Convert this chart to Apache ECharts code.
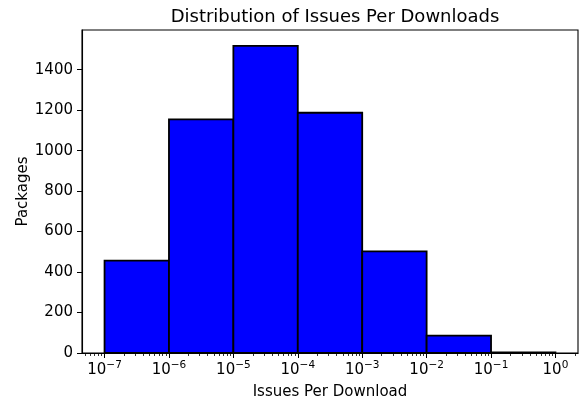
<!DOCTYPE html>
<html>
<head>
<meta charset="utf-8">
<script src="https://cdn.jsdelivr.net/npm/echarts@6/dist/echarts.min.js"></script>
<style>
  html, body { margin: 0; padding: 0; background: #fff; }
  #chart { width: 583px; height: 400px; }
</style>
</head>
<body>
<div id="chart"></div>
<script>
// histogram bins, edges given as powers of ten
const binStartExp = [-7, -6, -5, -4, -3, -2, -1];
const binEndExp = [-6, -5, -4, -3, -2, -1, 0];
const packageCounts = [456, 1154, 1518, 1187, 502, 86, 3];
const xTickExps = [-7, -6, -5, -4, -3, -2, -1, 0];
const yTicks = [0, 200, 400, 600, 800, 1000, 1200, 1400];

const FONT = "DejaVu Sans";
const xMin = -7.35, xMax = 0.35;

// minor log ticks (2..9 x 10^k)
const minorTicks = [];
for (let k = -8; k <= 0; k++) {
  for (let m = 2; m <= 9; m++) {
    const v = k + Math.log10(m);
    if (v > xMin && v < xMax) minorTicks.push(v);
  }
}

const histData = binStartExp.map((s, i) => [s, binEndExp[i], packageCounts[i]]);

var myChart = echarts.init(document.getElementById("chart"), null, { renderer: "canvas" });

var option = {
  animation: false,
  backgroundColor: "#fff",
  title: {
    text: "Distribution of Issues Per Downloads",
    left: 330,
    textAlign: "center",
    top: 3,
    textStyle: { fontFamily: FONT, fontSize: 18, fontWeight: "normal", color: "#000" }
  },
  grid: {
    left: 82, right: 5, top: 30, bottom: 47,
    containLabel: false,
    outerBoundsMode: "none",
    show: true, borderColor: "#000", borderWidth: 1.1, backgroundColor: "transparent"
  },
  xAxis: [
    {
      type: "value",
      min: xMin,
      max: xMax,
      name: "Issues Per Download",
      nameLocation: "middle",
      nameGap: 32,
      nameTextStyle: { fontFamily: FONT, fontSize: 15, color: "#000" },
      splitLine: { show: false },
      axisLine: { show: true, onZero: false, lineStyle: { color: "#000", width: 1.1 } },
      axisTick: { show: true, customValues: xTickExps, length: 5, inside: false, lineStyle: { color: "#000", width: 1 } },
      axisLabel: {
        customValues: xTickExps,
        margin: 7,
        color: "#000",
        formatter: function (v) {
          return "{b|10}{s|" + String(v).replace("-", "\u2212") + "}";
        },
        rich: {
          b: { fontFamily: FONT, fontSize: 15, color: "#000", verticalAlign: "bottom" },
          s: { fontFamily: FONT, fontSize: 10.5, color: "#000", verticalAlign: "bottom", padding: [0, 0, 7, 0] }
        }
      }
    },
    {
      type: "value",
      min: xMin,
      max: xMax,
      position: "bottom",
      splitLine: { show: false },
      axisLine: { show: false, onZero: false },
      axisLabel: { show: false },
      axisTick: { show: true, customValues: minorTicks, length: 3, lineStyle: { color: "#000", width: 0.8 } }
    }
  ],
  yAxis: {
    type: "value",
    min: 0,
    max: 1596,
    name: "Packages",
    nameLocation: "middle",
    nameGap: 51,
    nameMoveOverlap: false,
    nameTextStyle: { fontFamily: FONT, fontSize: 15, color: "#000" },
    splitLine: { show: false },
    axisLine: { show: true, onZero: false, lineStyle: { color: "#000", width: 1.1 } },
    axisTick: { show: true, customValues: yTicks, length: 5, lineStyle: { color: "#000", width: 1 } },
    axisLabel: {
      customValues: yTicks,
      margin: 9,
      fontFamily: FONT,
      fontSize: 15,
      color: "#000",
      formatter: function (v) { return String(v); }
    }
  },
  series: [
    {
      type: "custom",
      xAxisIndex: 0,
      encode: { x: [0, 1], y: 2 },
      data: histData,
      renderItem: function (params, api) {
        var p0 = api.coord([api.value(0), 0]);
        var p1 = api.coord([api.value(1), api.value(2)]);
        return {
          type: "rect",
          shape: { x: p0[0], y: p1[1], width: p1[0] - p0[0], height: p0[1] - p1[1] },
          style: { fill: "#0000ff", stroke: "#000", lineWidth: 1.8 }
        };
      }
    }
  ]
};

myChart.setOption(option);
</script>
</body>
</html>
